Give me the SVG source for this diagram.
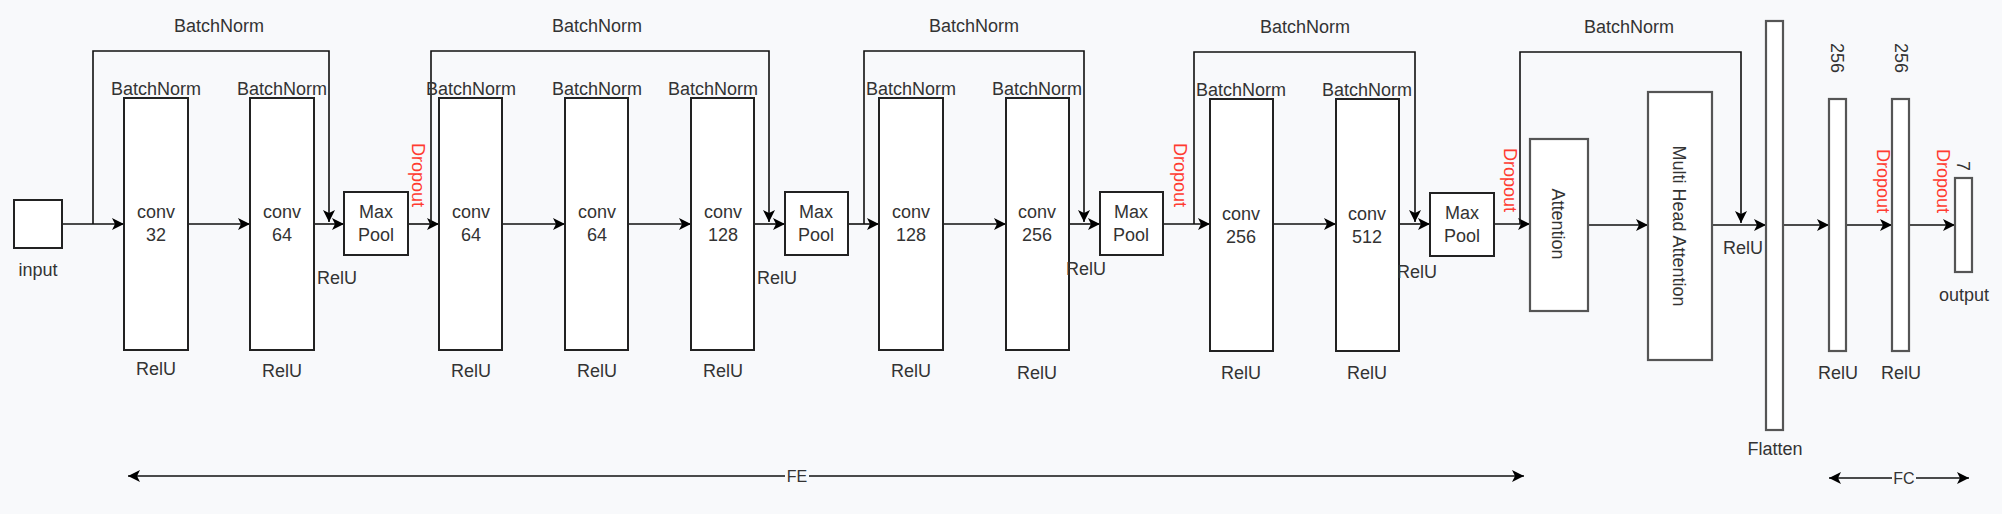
<svg xmlns="http://www.w3.org/2000/svg" width="2002" height="514" viewBox="0 0 2002 514">
<defs>
<marker id="arr" markerUnits="userSpaceOnUse" markerWidth="14" markerHeight="14" viewBox="0 0 14 14" refX="13" refY="7" orient="auto-start-reverse">
<path d="M1,1 L13,7 L1,13 L4,7 z" fill="#000"/>
</marker>
<style>
.bg{fill:#f8f9fb}
.box{fill:#fff;stroke:#222;stroke-width:2}
.gbox{fill:#fff;stroke:#555;stroke-width:2.2}
.ln{fill:none;stroke:#111;stroke-width:1.6}
.t{font-family:"Liberation Sans",Arial,sans-serif;font-size:18px;fill:#333;text-anchor:middle;dominant-baseline:central}
.r{fill:#ff3b30}
.s{font-size:16px}
</style>
</defs>
<rect class="bg" x="0" y="0" width="2002" height="514"/>

<g id="connectors">
<!-- main line -->
<path class="ln" d="M62,224 H124" marker-end="url(#arr)"/>
<path class="ln" d="M188,224 H250" marker-end="url(#arr)"/>
<path class="ln" d="M314,224 H344" marker-end="url(#arr)"/>
<path class="ln" d="M408,224 H439" marker-end="url(#arr)"/>
<path class="ln" d="M502,224 H565" marker-end="url(#arr)"/>
<path class="ln" d="M628,224 H691" marker-end="url(#arr)"/>
<path class="ln" d="M754,224 H785" marker-end="url(#arr)"/>
<path class="ln" d="M848,224 H879" marker-end="url(#arr)"/>
<path class="ln" d="M943,224 H1006" marker-end="url(#arr)"/>
<path class="ln" d="M1069,224 H1100" marker-end="url(#arr)"/>
<path class="ln" d="M1163,224 H1210" marker-end="url(#arr)"/>
<path class="ln" d="M1273,224 H1336" marker-end="url(#arr)"/>
<path class="ln" d="M1399,224 H1430" marker-end="url(#arr)"/>
<path class="ln" d="M1494,224 H1530" marker-end="url(#arr)"/>
<path class="ln" d="M1588,225 H1648" marker-end="url(#arr)"/>
<path class="ln" d="M1712,225 H1766" marker-end="url(#arr)"/>
<path class="ln" d="M1783,225 H1829" marker-end="url(#arr)"/>
<path class="ln" d="M1846,225 H1892" marker-end="url(#arr)"/>
<path class="ln" d="M1909,225 H1955" marker-end="url(#arr)"/>
<!-- skip connections -->
<path class="ln" d="M93,224 V51 H329 V222" marker-end="url(#arr)"/>
<path class="ln" d="M431,224 V51 H769 V222" marker-end="url(#arr)"/>
<path class="ln" d="M864,224 V51 H1084 V222" marker-end="url(#arr)"/>
<path class="ln" d="M1194,224 V52 H1415 V222" marker-end="url(#arr)"/>
<path class="ln" d="M1520,224 V52 H1741 V223" marker-end="url(#arr)"/>
<!-- span arrows -->
<path class="ln" d="M128,476 H1524" marker-start="url(#arr)" marker-end="url(#arr)"/>
<path class="ln" d="M1829,478 H1969" marker-start="url(#arr)" marker-end="url(#arr)"/>
</g>

<g id="input"><rect class="box" x="14" y="200" width="48" height="48"/><text class="t" x="38" y="270">input</text></g>

<g id="conv32"><rect class="box" x="124" y="98" width="64" height="252"/><text class="t" x="156" y="212">conv</text><text class="t" x="156" y="235">32</text><text class="t" x="156" y="89">BatchNorm</text><text class="t" x="156" y="369">RelU</text></g>
<g id="conv64a"><rect class="box" x="250" y="98" width="64" height="252"/><text class="t" x="282" y="212">conv</text><text class="t" x="282" y="235">64</text><text class="t" x="282" y="89">BatchNorm</text><text class="t" x="282" y="371">RelU</text></g>
<g id="pool1"><rect class="box" x="344" y="192" width="64" height="63"/><text class="t" x="376" y="212">Max</text><text class="t" x="376" y="235">Pool</text></g>

<g id="conv64b"><rect class="box" x="439" y="98" width="63" height="252"/><text class="t" x="471" y="212">conv</text><text class="t" x="471" y="235">64</text><text class="t" x="471" y="89">BatchNorm</text><text class="t" x="471" y="371">RelU</text></g>
<g id="conv64c"><rect class="box" x="565" y="98" width="63" height="252"/><text class="t" x="597" y="212">conv</text><text class="t" x="597" y="235">64</text><text class="t" x="597" y="89">BatchNorm</text><text class="t" x="597" y="371">RelU</text></g>
<g id="conv128a"><rect class="box" x="691" y="98" width="63" height="252"/><text class="t" x="723" y="212">conv</text><text class="t" x="723" y="235">128</text><text class="t" x="713" y="89">BatchNorm</text><text class="t" x="723" y="371">RelU</text></g>
<g id="pool2"><rect class="box" x="785" y="192" width="63" height="63"/><text class="t" x="816" y="212">Max</text><text class="t" x="816" y="235">Pool</text></g>

<g id="conv128b"><rect class="box" x="879" y="98" width="64" height="252"/><text class="t" x="911" y="212">conv</text><text class="t" x="911" y="235">128</text><text class="t" x="911" y="89">BatchNorm</text><text class="t" x="911" y="371">RelU</text></g>
<g id="conv256a"><rect class="box" x="1006" y="98" width="63" height="252"/><text class="t" x="1037" y="212">conv</text><text class="t" x="1037" y="235">256</text><text class="t" x="1037" y="89">BatchNorm</text><text class="t" x="1037" y="373">RelU</text></g>
<g id="pool3"><rect class="box" x="1100" y="192" width="63" height="63"/><text class="t" x="1131" y="212">Max</text><text class="t" x="1131" y="235">Pool</text></g>

<g id="conv256b"><rect class="box" x="1210" y="99" width="63" height="252"/><text class="t" x="1241" y="214">conv</text><text class="t" x="1241" y="237">256</text><text class="t" x="1241" y="90">BatchNorm</text><text class="t" x="1241" y="373">RelU</text></g>
<g id="conv512"><rect class="box" x="1336" y="99" width="63" height="252"/><text class="t" x="1367" y="214">conv</text><text class="t" x="1367" y="237">512</text><text class="t" x="1367" y="90">BatchNorm</text><text class="t" x="1367" y="373">RelU</text></g>
<g id="pool4"><rect class="box" x="1430" y="193" width="64" height="63"/><text class="t" x="1462" y="213">Max</text><text class="t" x="1462" y="236">Pool</text></g>

<g id="attention"><rect class="gbox" x="1530" y="139" width="58" height="172"/><text class="t" x="1558" y="224" transform="rotate(90 1558 224)">Attention</text></g>
<g id="mha"><rect class="gbox" x="1648" y="92" width="64" height="268"/><text class="t" x="1679" y="226" transform="rotate(90 1679 226)">Multi Head Attention</text></g>
<g id="flatten"><rect class="gbox" x="1766" y="21" width="17" height="409"/><text class="t" x="1775" y="449">Flatten</text></g>
<g id="fc1"><rect class="gbox" x="1829" y="99" width="17" height="252"/><text class="t" x="1837" y="58" transform="rotate(90 1837 58)">256</text><text class="t" x="1838" y="373">RelU</text></g>
<g id="fc2"><rect class="gbox" x="1892" y="99" width="17" height="252"/><text class="t" x="1901" y="58" transform="rotate(90 1901 58)">256</text><text class="t" x="1901" y="373">RelU</text></g>
<g id="output"><rect class="gbox" x="1955" y="178" width="17" height="94"/><text class="t" x="1963" y="166" transform="rotate(90 1963 166)">7</text><text class="t" x="1964" y="295">output</text></g>

<g id="labels">
<text class="t" x="219" y="26">BatchNorm</text>
<text class="t" x="597" y="26">BatchNorm</text>
<text class="t" x="974" y="26">BatchNorm</text>
<text class="t" x="1305" y="27">BatchNorm</text>
<text class="t" x="1629" y="27">BatchNorm</text>
<text class="t" x="337" y="278">RelU</text>
<text class="t" x="777" y="278">RelU</text>
<text class="t" x="1086" y="269">RelU</text>
<text class="t" x="1417" y="272">RelU</text>
<text class="t" x="1743" y="248">RelU</text>
<text class="t r" x="418" y="175" transform="rotate(90 418 175)">Dropout</text>
<text class="t r" x="1180" y="175" transform="rotate(90 1180 175)">Dropout</text>
<text class="t r" x="1510" y="180" transform="rotate(90 1510 180)">Dropout</text>
<text class="t r" x="1883" y="181" transform="rotate(90 1883 181)">Dropout</text>
<text class="t r" x="1943" y="181" transform="rotate(90 1943 181)">Dropout</text>
<rect class="bg" x="785" y="466" width="24" height="20"/>
<text class="t s" x="797" y="476">FE</text>
<rect class="bg" x="1892" y="468" width="24" height="20"/>
<text class="t s" x="1904" y="478">FC</text>
</g>
</svg>
